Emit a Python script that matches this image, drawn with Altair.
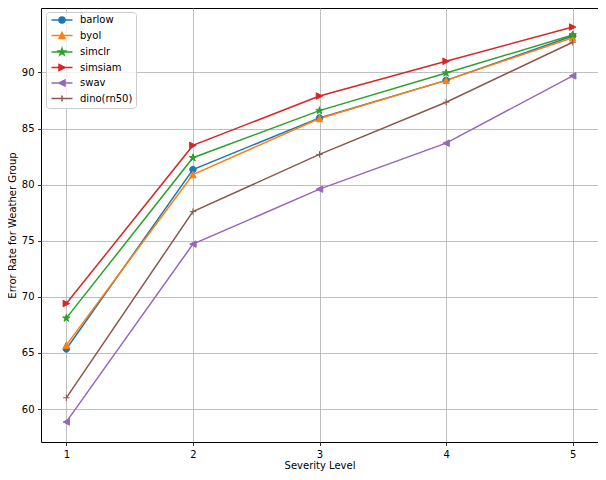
import altair as alt
import pandas as pd
import math

severity = [1, 2, 3, 4, 5]
series_names = ["barlow", "byol", "simclr", "simsiam", "swav", "dino(rn50)"]
barlow = [65.35, 81.35, 85.95, 89.3, 93.25]
byol = [65.7, 80.9, 85.9, 89.3, 93.1]
simclr = [68.1, 82.4, 86.6, 89.95, 93.35]
simsiam = [69.4, 83.5, 87.9, 91.0, 94.05]
swav = [58.85, 74.7, 79.6, 83.7, 89.7]
dino = [61.0, 77.6, 82.7, 87.35, 92.7]
colors = ["#1f77b4", "#ff7f0e", "#2ca02c", "#d62728", "#9467bd", "#8c564b"]

values = [barlow, byol, simclr, simsiam, swav, dino]
rows = []
for name, vals in zip(series_names, values):
    for x, v in zip(severity, vals):
        rows.append({"severity": x, "error": v, "series": name})
df = pd.DataFrame(rows)


def star(r_out=1.0, r_in=0.382):
    pts = []
    for i in range(10):
        ang = math.radians(-90 + 36 * i)
        r = r_out if i % 2 == 0 else r_in
        pts.append((r * math.cos(ang), r * math.sin(ang)))
    return pts


def poly(pts, s=1.0):
    return "M" + "L".join(f"{x*s:.3f},{y*s:.3f}" for x, y in pts) + "Z"


def circle(s=1.0):
    return f"M{-s:.3f},0A{s:.3f},{s:.3f},0,1,1,{s:.3f},0A{s:.3f},{s:.3f},0,1,1,{-s:.3f},0Z"


def plus(s=1.0):
    return f"M{-s:.3f},0L{s:.3f},0M0,{-s:.3f}L0,{s:.3f}"


def shapes(s=1.0):
    return [
        circle(s),
        poly([(0, -1), (1, 1), (-1, 1)], s),
        poly(star(1.2, 0.46), s),
        poly([(1, 0), (-1, 1), (-1, -1)], s),
        poly([(-1, 0), (1, -1), (1, 1)], s),
        plus(s),
    ]


point_shapes = shapes(1.0)
legend_line = "M-3.5,0L3.5,0"
legend_shapes = [legend_line + p for p in shapes(1.0)]

font = "DejaVu Sans"

x_enc = alt.X(
    "severity:Q",
    title="Severity Level",
    scale=alt.Scale(domain=[0.8, 5.2], nice=False, zero=False),
    axis=alt.Axis(values=severity, format="d", titlePadding=1.5),
)
y_enc = alt.Y(
    "error:Q",
    title="Error Rate for Weather Group",
    scale=alt.Scale(domain=[57.06, 95.75], nice=False, zero=False),
    axis=alt.Axis(values=[60, 65, 70, 75, 80, 85, 90]),
)

cscale = alt.Scale(domain=series_names, range=colors)

lines = alt.Chart(df).mark_line(strokeWidth=1.5).encode(
    x=x_enc,
    y=y_enc,
    color=alt.Color("series:N", scale=cscale, legend=None),
)

points = alt.Chart(df).mark_point(filled=True, size=42, strokeWidth=1, opacity=1).encode(
    x=x_enc,
    y=y_enc,
    color=alt.Color("series:N", scale=cscale, legend=None),
    stroke=alt.Stroke("series:N", scale=cscale, legend=None),
    shape=alt.Shape("series:N", scale=alt.Scale(domain=series_names, range=point_shapes), legend=None),
)

leg = alt.Legend(
    title=None,
    orient="none",
    legendX=5,
    legendY=4,
    padding=3,
    rowPadding=3.5,
    symbolSize=36,
    symbolOffset=8,
    labelOffset=13,
    symbolStrokeWidth=1.5,
    symbolOpacity=1,
    labelFont=font,
    labelFontSize=10,
    labelColor="black",
    strokeColor="#cccccc",
    fillColor="rgba(255,255,255,0.8)",
    cornerRadius=3,
)

legend_layer = alt.Chart(df).transform_filter("false").mark_point(filled=True, size=36, strokeWidth=1.5).encode(
    x=x_enc,
    y=y_enc,
    color=alt.Color("series:N", scale=cscale, legend=leg),
    stroke=alt.Stroke("series:N", scale=cscale, legend=leg),
    shape=alt.Shape("series:N", scale=alt.Scale(domain=series_names, range=legend_shapes), legend=leg),
)

chart = (
    alt.layer(lines, points, legend_layer)
    .resolve_scale(color="independent", stroke="independent", shape="independent")
    .properties(
        width=557,
        height=434,
        autosize=alt.AutoSizeParams(type="none"),
        padding={"left": 33, "top": 0, "right": 0, "bottom": 30},
        background="white",
    )
    .configure_view(stroke="black", strokeWidth=1)
    .configure_axis(
        grid=True,
        gridColor="#b0b0b0",
        gridWidth=0.8,
        domain=False,
        tickColor="black",
        tickSize=3.5,
        tickWidth=0.8,
        labelFont=font,
        labelFontSize=10,
        labelColor="black",
        labelPadding=3.5,
        titleFont=font,
        titleFontSize=10,
        titleFontWeight="normal",
        titleColor="black",
        titlePadding=4,
    )
)

chart.save("out.html", embed_options={"renderer": "svg", "actions": False})
